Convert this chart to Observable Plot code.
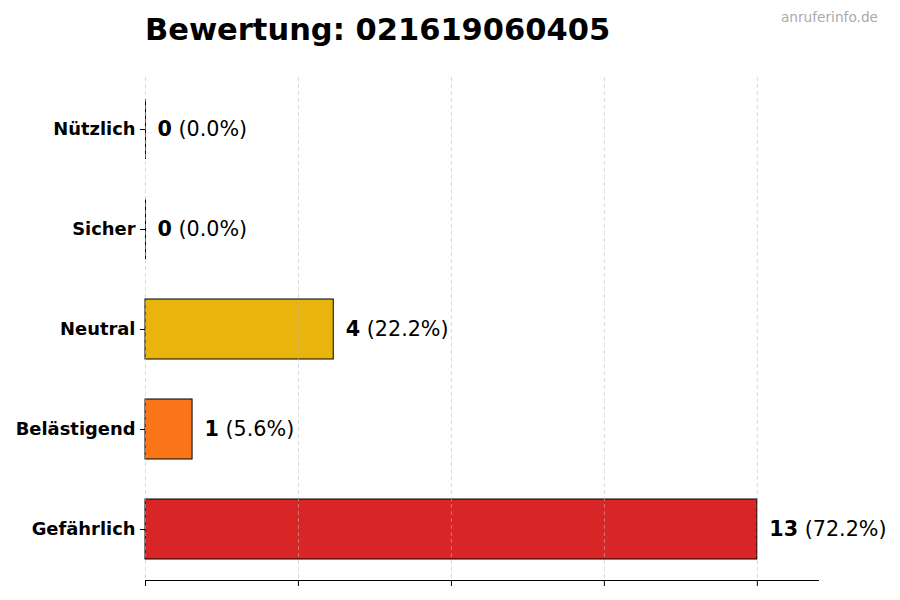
<!DOCTYPE html>
<html>
<head>
<meta charset="utf-8">
<script src="https://cdn.jsdelivr.net/npm/d3@7"></script>
<script src="https://cdn.jsdelivr.net/npm/@observablehq/plot@0.6"></script>
<style>
  html, body { margin: 0; padding: 0; background: #fff; }
  #wrap { position: relative; width: 900px; height: 600px; font-family: "DejaVu Sans", sans-serif; }
  #title { position: absolute; left: 145px; top: 12px; font-size: 30.5px; font-weight: bold; color: #000; white-space: nowrap; }
  #wm { position: absolute; right: 22px; top: 9px; font-size: 13.7px; color: #aaaaaa; white-space: nowrap; }
  #chart { position: absolute; left: 0; top: 0; }
</style>
</head>
<body>
<div id="wrap">
  <div id="chart"></div>
  <div id="title">Bewertung: 021619060405</div>
  <div id="wm">anruferinfo.de</div>
</div>
<script>
const categories = ["Nützlich", "Sicher", "Neutral", "Belästigend", "Gefährlich"];
const counts = [0, 0, 4, 1, 13];
const colors = ["#16a34a", "#22c55e", "#e9b40b", "#f97518", "#da2527"];
const xTicks = [0, 3.25, 6.5, 9.75, 13];

const total = d3.sum(counts);
const data = categories.map((c, i) => ({
  category: c,
  count: counts[i],
  color: colors[i],
  label: `${counts[i]} (${(counts[i] / total * 100).toFixed(1)}%)`
}));

const chart = Plot.plot({
  width: 900,
  height: 600,
  marginLeft: 145,
  marginRight: 82,
  marginTop: 77,
  marginBottom: 20,
  style: { fontFamily: "DejaVu Sans, sans-serif", background: "transparent" },
  x: { domain: [0, 14.3] },
  y: { domain: categories, paddingInner: 0.4, paddingOuter: 0.215, label: null },
  marks: [
    Plot.barX(data, { x: "count", y: "category", fill: "color", stroke: "#000", strokeWidth: 1 }),
    Plot.tickX(data.filter(d => d.count === 0), { x: "count", y: "category", stroke: "#000", strokeWidth: 1 }),
    Plot.gridX(xTicks, { stroke: "#bbb", strokeOpacity: 0.7, strokeDasharray: "4,3", strokeWidth: 0.8 }),
    Plot.text(data, { x: "count", y: "category", text: "label", dx: 12, textAnchor: "start", fontSize: 20.7, fill: "#000" }),
    Plot.axisY({ tickSize: 5, tickPadding: 5, fontSize: 17.9, fontWeight: "bold", label: null, color: "#000" }),
    Plot.axisX(xTicks, { tickSize: 6, tickFormat: () => "", label: null, color: "#000" }),
    Plot.frame({ anchor: "bottom", stroke: "#000" })
  ]
});

document.getElementById("chart").appendChild(chart);

// Bold the count, normal weight for the percentage
d3.select(chart).selectAll("g[aria-label='text'] text").each(function () {
  const t = d3.select(this);
  const s = t.text();
  const idx = s.indexOf(" ");
  t.text(null);
  t.append("tspan").attr("font-weight", "bold").text(s.slice(0, idx));
  t.append("tspan").attr("font-weight", "normal").text(s.slice(idx));
});
d3.select(chart).selectAll("g[aria-label='y-axis tick label'] text").attr("fill", "#000");
</script>
</body>
</html>
